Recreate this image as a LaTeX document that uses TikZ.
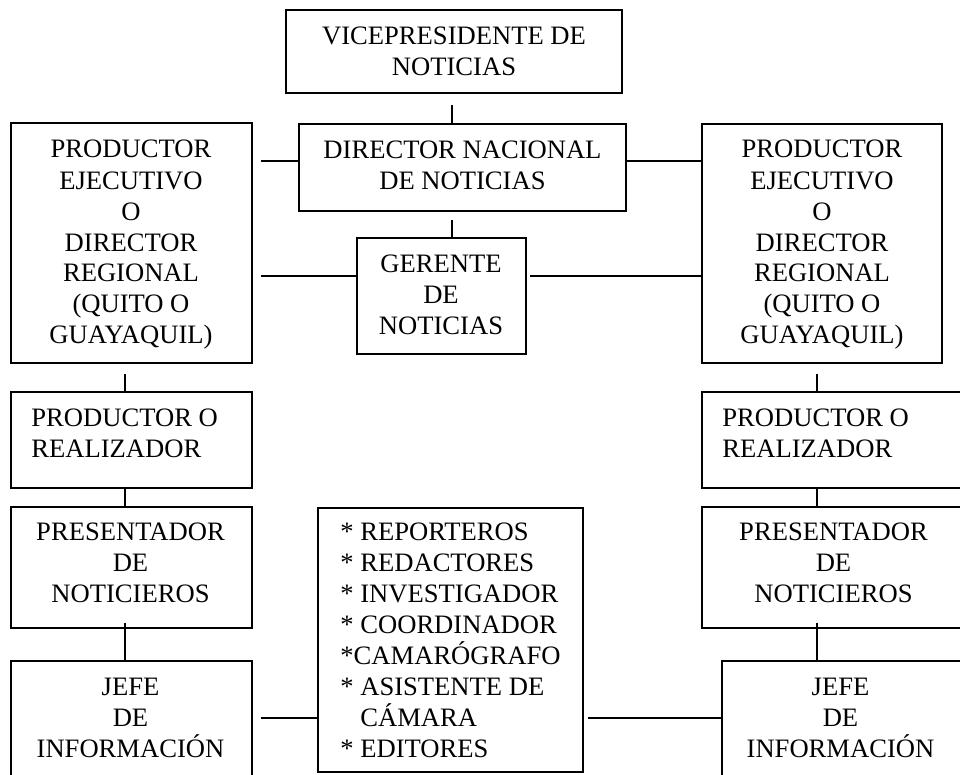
\documentclass[tikz,border=0pt]{standalone}
\usepackage{fontspec}
\setmainfont{Liberation Serif}
\usetikzlibrary{fit,calc}
\begin{document}
\begin{tikzpicture}[x=0.5pt,y=-0.5pt,
  box/.style={draw, line width=1pt, inner sep=0pt},
  conn/.style={line width=0.9pt},
  lbl/.style={font=\fontsize{13.3}{15.5}\selectfont, inner sep=0pt, align=center, anchor=base},
  lbll/.style={font=\fontsize{13.3}{15.5}\selectfont, inner sep=0pt, align=left, anchor=base west}]
\useasboundingbox (0,0) rectangle (960,775);
\clip (0,0) rectangle (960,775);
% boxes
\node[box, fit={(286,10) (622,93)}] (vp) {};
\node[box, fit={(299,124) (626,211)}] (dn) {};
\node[box, fit={(357,238) (526,354)}] (gn) {};
\node[box, fit={(11,123) (252,363)}] (pl) {};
\node[box, fit={(702,124) (942,363)}] (pr) {};
\node[box, fit={(11,392) (252,488)}] (prl) {};
\node[box, fit={(702,392) (980,488)}] (prr) {};
\node[box, fit={(11,507) (252,628)}] (pnl) {};
\node[box, fit={(702,507) (980,628)}] (pnr) {};
\node[box, fit={(11,661) (252,800)}] (jil) {};
\node[box, fit={(722,661) (980,800)}] (jir) {};
\node[box, fit={(318,508) (583,772)}] (lst) {};
% texts (anchor = baseline of last line)
\node[lbl] (tvp) at (454,76) {VICEPRESIDENTE DE\\NOTICIAS};
\node[lbl] (tdn) at (462.5,190) {DIRECTOR NACIONAL\\DE NOTICIAS};
\node[lbl] (tgn) at (441,335) {GERENTE\\DE\\NOTICIAS};
\node[lbl] (tpl) at (131,344) {PRODUCTOR\\EJECUTIVO\\O\\DIRECTOR\\REGIONAL\\(QUITO O\\GUAYAQUIL)};
\node[lbl] (tpr) at (822,344) {PRODUCTOR\\EJECUTIVO\\O\\DIRECTOR\\REGIONAL\\(QUITO O\\GUAYAQUIL)};
\node[lbll] (tprl) at (31,458) {PRODUCTOR O\\REALIZADOR};
\node[lbll] (tprr) at (722,458) {PRODUCTOR O\\REALIZADOR};
\node[lbl] (tpnl) at (130.5,603) {PRESENTADOR\\DE\\NOTICIEROS};
\node[lbl] (tpnr) at (833.5,603) {PRESENTADOR\\DE\\NOTICIEROS};
\node[lbl] (tjil) at (130.5,757) {JEFE\\DE\\INFORMACIÓN};
\node[lbl] (tjir) at (840.5,757) {JEFE\\DE\\INFORMACIÓN};
\node[lbll] (tlst) at (340,757) {* REPORTEROS\\* REDACTORES\\* INVESTIGADOR\\* COORDINADOR\\*CAMARÓGRAFO\\* ASISTENTE DE\\\hspace*{10pt}CÁMARA\\* EDITORES};
% connectors
\draw[conn, shorten <=5.5pt] ($(vp.south west)+(167,0)$) -- ($(dn.north west)+(154,0)$);
\draw[conn, shorten <=4pt] ($(dn.south west)+(154,0)$) -- ($(gn.north west)+(96,0)$);
\coordinate (dnL) at ($(dn.north west)+(0,38)$);
\coordinate (dnR) at ($(dn.north east)+(0,38)$);
\draw[conn, shorten >=4pt] (dnL) -- (dnL -| pl.east);
\draw[conn] (dnR) -- (dnR -| pr.west);
\coordinate (gnL) at ($(gn.north west)+(0,39)$);
\coordinate (gnR) at ($(gn.north east)+(0,39)$);
\draw[conn, shorten >=4pt] (gnL) -- (gnL -| pl.east);
\draw[conn, shorten <=1.5pt] (gnR) -- (gnR -| pr.west);
% left column
\coordinate (plB) at ($(pl.south west)+(115,0)$);
\draw[conn, shorten <=5pt] (plB) -- (plB |- prl.north);
\coordinate (prlB) at ($(prl.south west)+(115,0)$);
\draw[conn] (prlB) -- (prlB |- pnl.north);
\coordinate (pnlB) at ($(pnl.south west)+(115,0)$);
\draw[conn, shorten <=-3pt] (pnlB) -- (pnlB |- jil.north);
% right column
\coordinate (prB) at ($(pr.south west)+(116,0)$);
\draw[conn, shorten <=5pt] (prB) -- (prB |- prr.north);
\coordinate (prrB) at ($(prr.south west)+(116,0)$);
\draw[conn] (prrB) -- (prrB |- pnr.north);
\coordinate (pnrB) at ($(pnr.south west)+(116,0)$);
\draw[conn, shorten <=-3pt] (pnrB) -- (pnrB |- jir.north);
% bottom
\coordinate (jlR) at ($(jil.north east)+(0,58)$);
\draw[conn, shorten <=4pt] (jlR) -- (jlR -| lst.west);
\coordinate (lsR) at (jlR -| lst.east);
\draw[conn, shorten <=2pt] (lsR) -- (lsR -| jir.west);
\end{tikzpicture}
\end{document}
